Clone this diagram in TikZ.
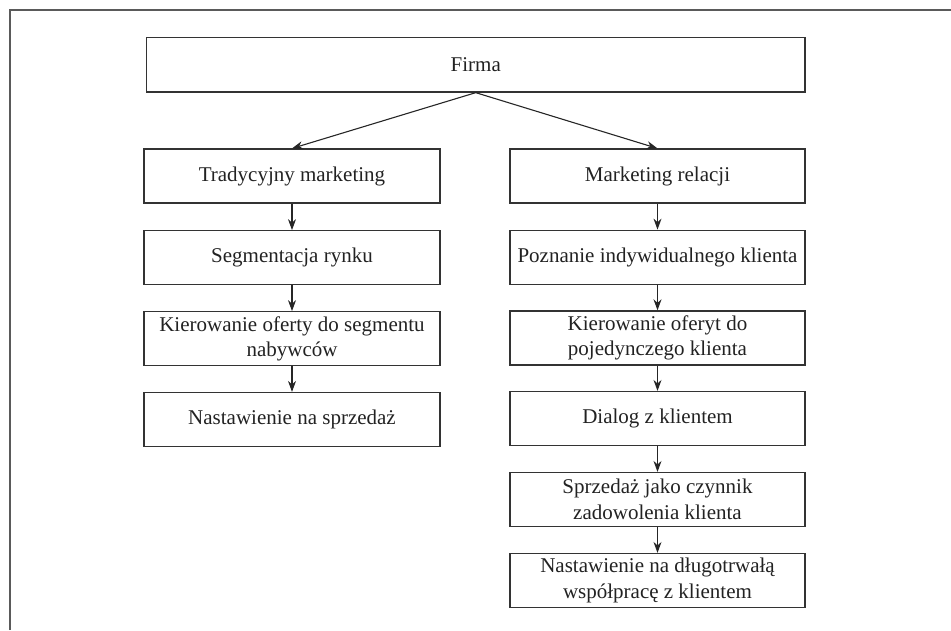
\documentclass[tikz,border=0pt]{standalone}
\usepackage{fontspec}
\setmainfont{Liberation Serif}
\usetikzlibrary{arrows.meta}
\definecolor{framegray}{HTML}{5A5A5A}
\definecolor{boxline}{HTML}{333333}
\definecolor{txt}{HTML}{222222}
\begin{document}
\begin{tikzpicture}[x=1pt,y=-1pt,
  box/.style={draw=boxline, line width=1.2pt, rectangle, minimum height=54pt, inner sep=0pt,
    align=center, text=txt, font=\fontsize{21pt}{25.5pt}\selectfont},
  lbox/.style={box, minimum width=296pt},
  rbox/.style={box, minimum width=295pt},
  conn/.style={draw=black!85, line width=1.1pt, -{Stealth[length=11pt,width=8pt]}}
]
\useasboundingbox (0,0) rectangle (951,630);
\draw[framegray, line width=1.4pt] (10,630) -- (10,10) -- (951,10);

\node[box, minimum width=658.5pt, minimum height=54.3pt] (firma) at (475.75,64.9) {Firma};

\node[lbox] (l1) at (292,176) {Tradycyjny marketing};
\node[lbox] (l2) at (292,257.7) {Segmentacja rynku};
\node[lbox] (l3) at (292,338.7) {Kierowanie oferty do segmentu\\nabywców};
\node[lbox] (l4) at (292,419.5) {Nastawienie na sprzedaż};

\node[rbox] (r1) at (657.5,176) {Marketing relacji};
\node[rbox] (r2) at (657.5,257.2) {Poznanie indywidualnego klienta};
\node[rbox] (r3) at (657.5,337.9) {Kierowanie oferyt do\\pojedynczego klienta};
\node[rbox] (r4) at (657.5,418.5) {Dialog z klientem};
\node[rbox] (r5) at (657.5,499.5) {Sprzedaż jako czynnik\\zadowolenia klienta};
\node[rbox] (r6) at (657.5,580.5) {Nastawienie na długotrwałą\\współpracę z klientem};

\draw[conn] (firma.south) -- (l1.north);
\draw[conn] (firma.south) -- (r1.north);
\draw[conn] (l1) -- (l2);
\draw[conn] (l2) -- (l3);
\draw[conn] (l3) -- (l4);
\draw[conn] (r1) -- (r2);
\draw[conn] (r2) -- (r3);
\draw[conn] (r3) -- (r4);
\draw[conn] (r4) -- (r5);
\draw[conn] (r5) -- (r6);
\end{tikzpicture}
\end{document}
